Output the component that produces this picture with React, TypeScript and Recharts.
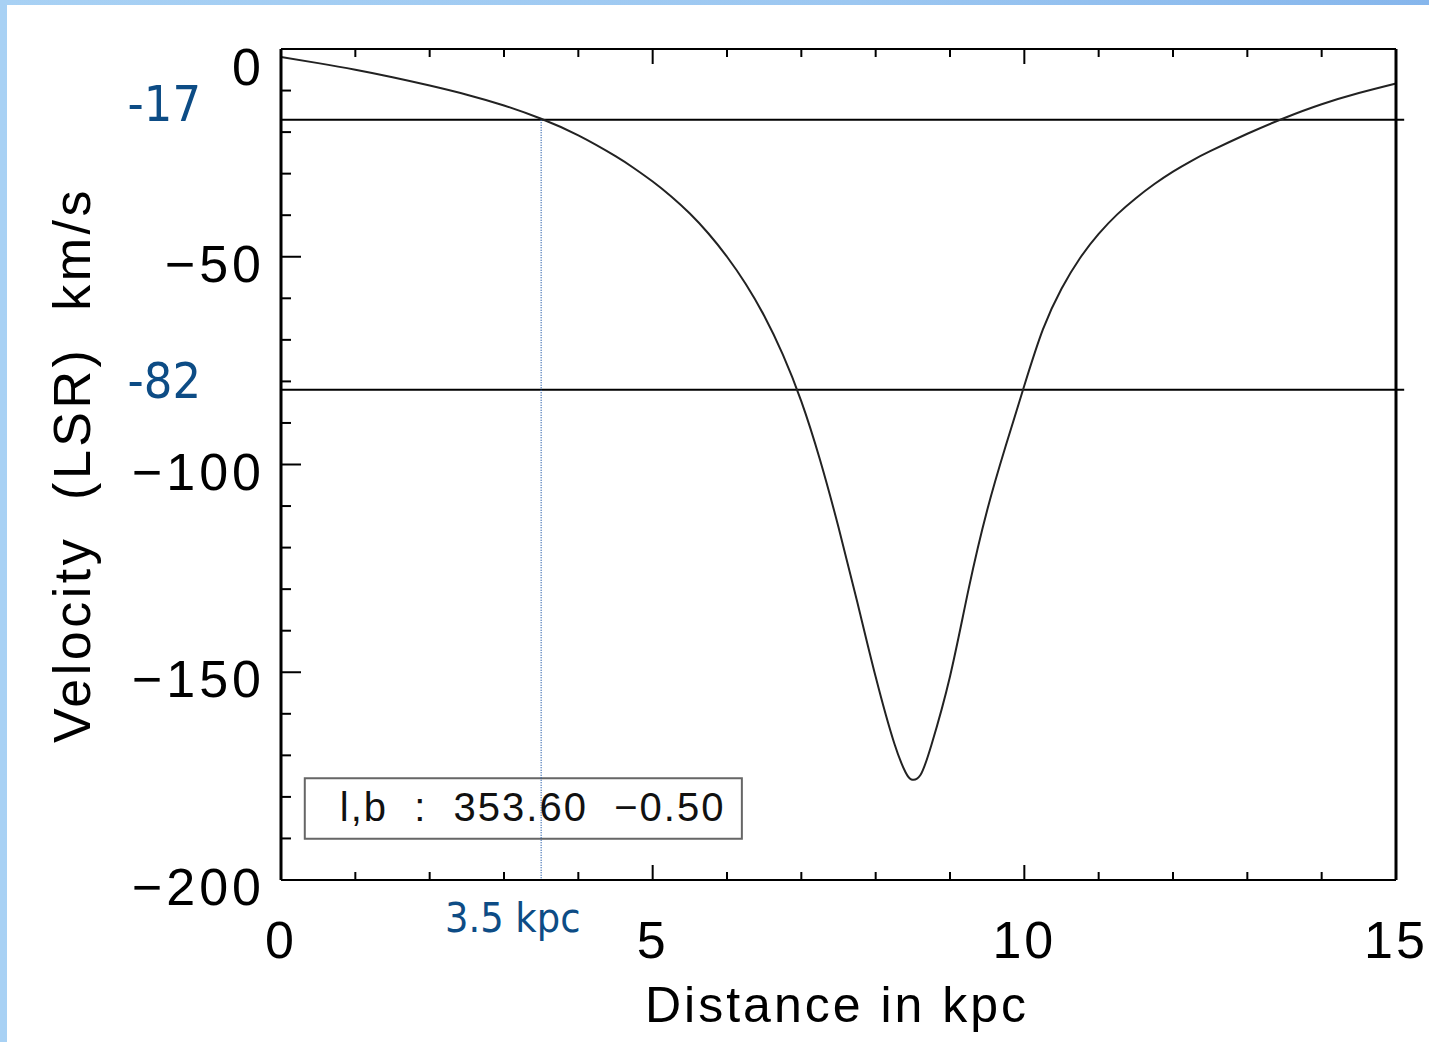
import React from "react";
import {
  LineChart,
  Line,
  XAxis,
  YAxis,
  ReferenceLine,
  ReferenceArea,
} from "recharts";

// distance (kpc) and LSR velocity (km/s)
const distance = [
  0, 0.5, 1, 1.5, 2, 2.5, 3, 3.5, 4, 4.5, 4.75, 5, 5.25, 5.5, 5.75, 6, 6.25,
  6.5, 6.75, 7, 7.25, 7.5, 7.75, 8, 8.25, 8.4, 8.48, 8.6, 8.75, 9, 9.25, 9.5,
  9.75, 10, 10.25, 10.5, 10.75, 11, 11.25, 11.5, 11.75, 12, 12.25, 12.5, 13,
  13.5, 14, 14.5, 15,
];
const velocity = [
  -1.9, -3.4, -5.0, -6.8, -8.8, -11.0, -13.6, -16.8, -20.8, -25.8, -28.7,
  -31.9, -35.5, -39.6, -44.4, -50.0, -56.5, -64.2, -73.5, -84.8, -98.8, -115.1,
  -132.9, -151.1, -167.1, -174, -175.8, -174.8, -167.5, -151, -130, -111,
  -95.5, -81, -67.5, -57.7, -50.3, -44.5, -39.8, -35.9, -32.5, -29.5, -26.9,
  -24.6, -20.4, -16.6, -13.3, -10.6, -8.3,
];

const xTicks = [0, 1, 2, 3, 4, 5, 6, 7, 8, 9, 10, 11, 12, 13, 14, 15];
const yTicks = [
  -200, -190, -180, -170, -160, -150, -140, -130, -120, -110, -100, -90, -80,
  -70, -60, -50, -40, -30, -20, -10, 0,
];

const markedVelocities = [-17, -82];
const markedDistance = 3.5;
const coords = "l,b  :  353.60  \u22120.50";

const data = distance.map((d, i) => ({ d, v: velocity[i] }));

const FONT = "'Liberation Sans', Arial, sans-serif";
const BLUE_FONT = "'DejaVu Sans Condensed', 'DejaVu Sans', sans-serif";
const BLUE = "#0d4c85";

const fmt = (v: number) => (v < 0 ? "\u2212" + Math.abs(v) : String(v));

const BottomTick = (props: any) => {
  const { x, y, payload } = props;
  const v = payload.value;
  const major = v % 5 === 0;
  return (
    <g>
      <line x1={x} x2={x} y1={y} y2={y - (major ? 15 : 8)} stroke="#000" strokeWidth={2} />
      {major && (
        <text x={x} y={y + 78} textAnchor="middle" fontFamily={FONT} fontSize={52} letterSpacing={3} fill="#000">
          {v}
        </text>
      )}
    </g>
  );
};

const TopTick = (props: any) => {
  const { x, y, payload } = props;
  const major = payload.value % 5 === 0;
  return <line x1={x} x2={x} y1={y} y2={y + (major ? 15 : 8)} stroke="#000" strokeWidth={2} />;
};

const LeftTick = (props: any) => {
  const { x, y, payload } = props;
  const v = payload.value;
  const major = v % 50 === 0;
  return (
    <g>
      <line x1={x} x2={x + (major ? 20 : 10)} y1={y} y2={y} stroke="#000" strokeWidth={2} />
      {major && (
        <text x={x - 16} y={y + (v === 0 ? 36 : 25)} textAnchor="end" fontFamily={FONT} fontSize={52} letterSpacing={4} fill="#000">
          {fmt(v)}
        </text>
      )}
    </g>
  );
};

const RightTick = (props: any) => {
  const { x, y, payload } = props;
  const major = payload.value % 50 === 0;
  return <line x1={x} x2={x - (major ? 20 : 10)} y1={y} y2={y} stroke="#000" strokeWidth={2} />;
};

const BoxLabel = (props: any) => {
  const { viewBox } = props;
  return (
    <text x={viewBox.x + 35} y={viewBox.y + 43} fontFamily={FONT} fontSize={40} letterSpacing={2} fill="#111" style={{ whiteSpace: "pre" }}>
      {coords}
    </text>
  );
};

export default function App() {
  return (
    <div
      style={{
        position: "absolute",
        left: 0,
        top: 0,
        width: 1429,
        height: 1042,
        background: "linear-gradient(90deg, #a8d1f4 0%, #9cc7f1 60%, #86b6ec 100%)",
        overflow: "hidden",
      }}
    >
      <div style={{ position: "absolute", left: 7, top: 5, right: 0, bottom: 0, background: "#fff" }} />
      <div style={{ position: "absolute", left: 0, top: 0 }}>
        <LineChart width={1429} height={1042} data={data} margin={{ top: 0, right: 0, left: 0, bottom: 0 }}>
          <XAxis
            dataKey="d"
            type="number"
            domain={[0, 15]}
            ticks={xTicks}
            interval={0}
            height={162}
            tickSize={0}
            tickMargin={0}
            tickLine={false}
            axisLine={{ stroke: "#000", strokeWidth: 2 }}
            tick={<BottomTick />}
          />
          <XAxis
            xAxisId="top"
            orientation="top"
            dataKey="d"
            type="number"
            domain={[0, 15]}
            ticks={xTicks}
            interval={0}
            height={49}
            tickSize={0}
            tickMargin={0}
            tickLine={false}
            axisLine={{ stroke: "#000", strokeWidth: 2 }}
            tick={<TopTick />}
          />
          <YAxis
            type="number"
            domain={[-200, 0]}
            ticks={yTicks}
            interval={0}
            width={281}
            tickSize={0}
            tickMargin={0}
            tickLine={false}
            axisLine={{ stroke: "#000", strokeWidth: 3 }}
            tick={<LeftTick />}
          />
          <YAxis
            yAxisId="right"
            orientation="right"
            type="number"
            domain={[-200, 0]}
            ticks={yTicks}
            interval={0}
            width={33}
            tickSize={0}
            tickMargin={0}
            tickLine={false}
            axisLine={{ stroke: "#000", strokeWidth: 3 }}
            tick={<RightTick />}
          />
          <ReferenceArea
            x1={0.32}
            x2={6.2}
            y1={-190.1}
            y2={-175.5}
            fill="#fff"
            fillOpacity={1}
            stroke="#666"
            strokeWidth={2}
            label={<BoxLabel />}
          />
          {markedVelocities.map((v) => (
            <ReferenceLine
              key={v}
              segment={[
                { x: 0, y: v },
                { x: 15.11, y: v },
              ]}
              ifOverflow="visible"
              stroke="#000"
              strokeWidth={2}
            />
          ))}
          <ReferenceLine
            segment={[
              { x: markedDistance, y: markedVelocities[0] },
              { x: markedDistance, y: -200 },
            ]}
            stroke="#2a5fa8"
            strokeWidth={1.3}
            strokeDasharray="1 1.5"
          />
          <Line
            type="natural"
            dataKey="v"
            stroke="#222"
            strokeWidth={2}
            dot={false}
            isAnimationActive={false}
          />
        </LineChart>
      </div>
      <div style={{ position: "absolute", left: 0, top: 0, width: 1429, height: 1042, pointerEvents: "none" }}>
        <div style={{ position: "absolute", right: 1429 - 201, top: 74, fontFamily: BLUE_FONT, fontSize: 50, color: BLUE, lineHeight: "60px" }}>
          {String(markedVelocities[0])}
        </div>
        <div style={{ position: "absolute", right: 1429 - 201, top: 351, fontFamily: BLUE_FONT, fontSize: 50, color: BLUE, lineHeight: "60px" }}>
          {String(markedVelocities[1])}
        </div>
        <div style={{ position: "absolute", left: 445, top: 893, fontFamily: BLUE_FONT, fontSize: 41, color: BLUE, lineHeight: "50px" }}>
          {markedDistance} kpc
        </div>
        <div
          style={{
            position: "absolute",
            left: 557,
            width: 560,
            textAlign: "center",
            top: 975,
            fontFamily: FONT,
            fontSize: 50,
            letterSpacing: 3,
            whiteSpace: "pre",
            lineHeight: "60px",
            color: "#000",
          }}
        >
          {"Distance in kpc"}
        </div>
        <div
          style={{
            position: "absolute",
            left: 72 - 300,
            top: 465 - 30,
            width: 600,
            height: 60,
            textAlign: "center",
            transform: "rotate(-90deg)",
            fontFamily: FONT,
            fontSize: 52,
            letterSpacing: 3.5,
            whiteSpace: "pre",
            lineHeight: "60px",
            color: "#000",
          }}
        >
          {"Velocity  (LSR)  km/s"}
        </div>
      </div>
    </div>
  );
}
